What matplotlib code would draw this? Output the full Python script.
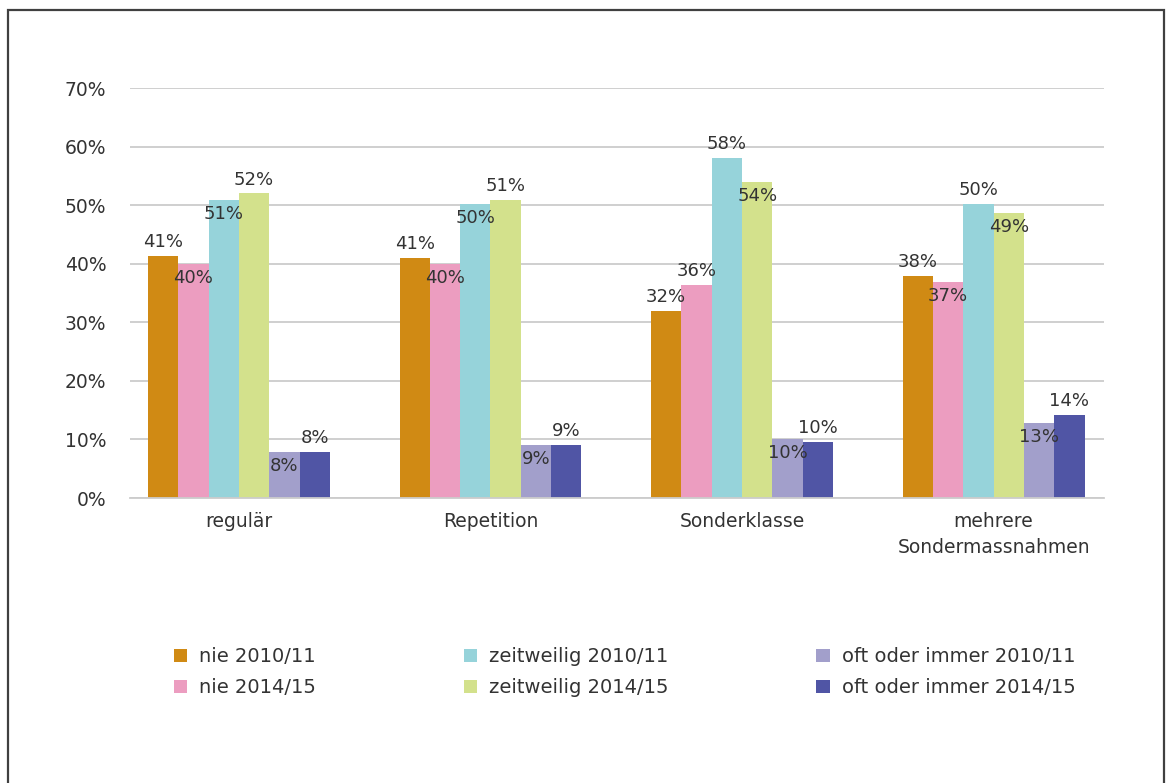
import numpy as np
import matplotlib
matplotlib.use("Agg")
from matplotlib import pyplot as plt
from matplotlib.patches import Rectangle

plt.rcParams['font.family'] = ['DejaVu Sans']

categories = ['regulär', 'Repetition', 'Sonderklasse', 'mehrere\nSondermassnahmen']
series_names = ['nie 2010/11', 'nie 2014/15', 'zeitweilig 2010/11', 'zeitweilig 2014/15',
                'oft oder immer 2010/11', 'oft oder immer 2014/15']
nie_1011 = [41.3, 41.0, 31.9, 37.9]
nie_1415 = [40.0, 40.0, 36.3, 36.9]
zeit_1011 = [50.9, 50.2, 58.0, 50.2]
zeit_1415 = [52.0, 50.9, 53.9, 48.6]
oft_1011 = [7.9, 9.0, 10.1, 12.8]
oft_1415 = [7.9, 9.0, 9.6, 14.2]
labels = [
    ['41%', '41%', '32%', '38%'],
    ['40%', '40%', '36%', '37%'],
    ['51%', '50%', '58%', '50%'],
    ['52%', '51%', '54%', '49%'],
    ['8%', '9%', '10%', '13%'],
    ['8%', '9%', '10%', '14%'],
]
# label placement: 1 above bar end, -1 inside below bar end
place = [
    [1, 1, 1, 1],
    [-1, -1, 1, -1],
    [-1, -1, 1, 1],
    [1, 1, -1, -1],
    [-1, -1, -1, -1],
    [1, 1, 1, 1],
]
colors = ['#D08A14', '#EC9DC0', '#96D3DA', '#D3E18C', '#A29FCB', '#5055A5']
values = [nie_1011, nie_1415, zeit_1011, zeit_1415, oft_1011, oft_1415]

fig = plt.figure(figsize=(11.7, 7.83), dpi=100)
ax = fig.add_axes([130 / 1170, 1 - 498 / 783, (1104 - 130) / 1170, (498 - 88) / 783])

x = np.arange(len(categories))
w = 0.1205
for i, vals in enumerate(values):
    pos = x + (i - 2.5) * w
    bars = ax.bar(pos, vals, w, color=colors[i], label=series_names[i], zorder=2)
    for j, b in enumerate(bars):
        off = 10 if place[i][j] > 0 else -10
        ax.annotate(labels[i][j], (b.get_x() + b.get_width() / 2, b.get_height()),
                    xytext=(0, off), textcoords='offset points',
                    ha='center', va='center', fontsize=13, color='#333333', zorder=3)

ax.set_xlim(-0.433, 3.439)
ax.set_ylim(0, 70)
ax.set_yticks(range(0, 71, 10))
ax.set_yticklabels([f'{v}%' for v in range(0, 71, 10)])
ax.set_xticks(x)
ax.set_xticklabels(categories, linespacing=1.45)
ax.yaxis.grid(True, color='#cccccc', linewidth=1.3, zorder=0)
ax.set_axisbelow(True)
for s in ['top', 'right', 'left']:
    ax.spines[s].set_visible(False)
ax.spines['bottom'].set_color('#cccccc')
ax.spines['bottom'].set_linewidth(1.3)
ax.tick_params(axis='both', length=0, labelsize=13.5, labelcolor='#333333')
ax.tick_params(axis='y', pad=17)
ax.tick_params(axis='x', pad=10)

fig.legend(loc='upper left', bbox_to_anchor=(174 / 1170, 1 - 647 / 783), ncol=3,
           frameon=False, fontsize=14, handlelength=0.68, handleheight=0.68,
           handletextpad=0.62, columnspacing=7.6, labelspacing=0.62, borderpad=0,
           borderaxespad=0, labelcolor='#333333')

fig.patches.append(Rectangle((8 / 1170, -0.05), (1164 - 8) / 1170, 1.05 - 10 / 783,
                             transform=fig.transFigure, fill=False,
                             edgecolor='#404040', linewidth=1.6))

fig.savefig('out.png', dpi=100)
